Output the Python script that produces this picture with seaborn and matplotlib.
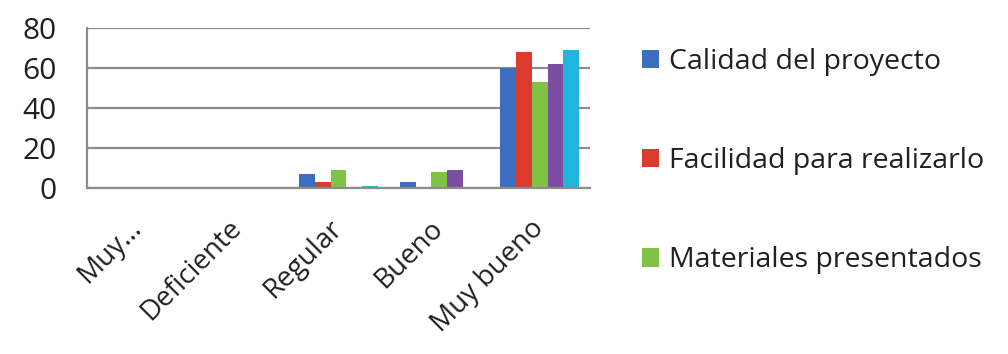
import matplotlib
matplotlib.use("Agg")
import matplotlib.pyplot as plt
import pandas as pd
import seaborn as sns

categories = ["Muy...", "Deficiente", "Regular", "Bueno", "Muy bueno"]
series = [
    "Calidad del proyecto",
    "Facilidad para realizarlo",
    "Materiales presentados",
    "Serie 4",
    "Serie 5",
]
calidad = [0, 0, 7, 3, 60]
facilidad = [0, 0, 3, 0, 68]
materiales = [0, 0, 9, 8, 53]
serie4 = [0, 0, 0, 9, 62]
serie5 = [0, 0, 1, 0, 69]

colors = ["#3D6DBE", "#DC3A2C", "#80C244", "#7B4EA2", "#20B4DF"]
grey = "#8C8C8C"
text_color = "#231F20"

rows = []
for name, vals in zip(series, [calidad, facilidad, materiales, serie4, serie5]):
    for cat, v in zip(categories, vals):
        rows.append({"categoria": cat, "serie": name, "valor": v})
df = pd.DataFrame(rows)

sns.set_style("white")
plt.rcParams["font.family"] = ["Open Sans", "DejaVu Sans"]

fig = plt.figure(figsize=(10.08, 3.54), dpi=100)
ax = fig.add_axes([0.0863, 0.469, 0.4990, 0.452])

sns.barplot(data=df, x="categoria", y="valor", hue="serie", order=categories,
            hue_order=series, palette=colors, width=0.78, saturation=1,
            linewidth=0, ax=ax, legend=True)

ax.set_ylim(0, 80)
ax.set_yticks([0, 20, 40, 60, 80])
ax.set_xlim(-0.5, len(categories) - 0.5)
ax.yaxis.grid(True, color=grey, linewidth=1.6)
ax.set_axisbelow(True)
ax.set_xlabel("")
ax.set_ylabel("")

for side in ["top", "right"]:
    ax.spines[side].set_visible(False)
for side in ["left", "bottom"]:
    ax.spines[side].set_color(grey)
    ax.spines[side].set_linewidth(1.6)

ax.tick_params(axis="y", length=4, width=1.6, color=grey, labelsize=21.5,
               labelcolor=text_color, pad=18)
ax.tick_params(axis="x", length=0, labelsize=20, labelcolor=text_color, pad=26)
plt.setp(ax.get_xticklabels(), rotation=45, ha="right", va="center",
         rotation_mode="anchor")

handles, labels = ax.get_legend_handles_labels()
ax.get_legend().remove()
fig.legend(handles[:3], labels[:3], loc="upper left", bbox_to_anchor=(0.611, 0.937),
           frameon=False, fontsize=20.5, labelcolor=text_color, handlelength=0.63,
           handleheight=0.63, handletextpad=0.35, labelspacing=2.5)

fig.savefig("out.png", dpi=100)
